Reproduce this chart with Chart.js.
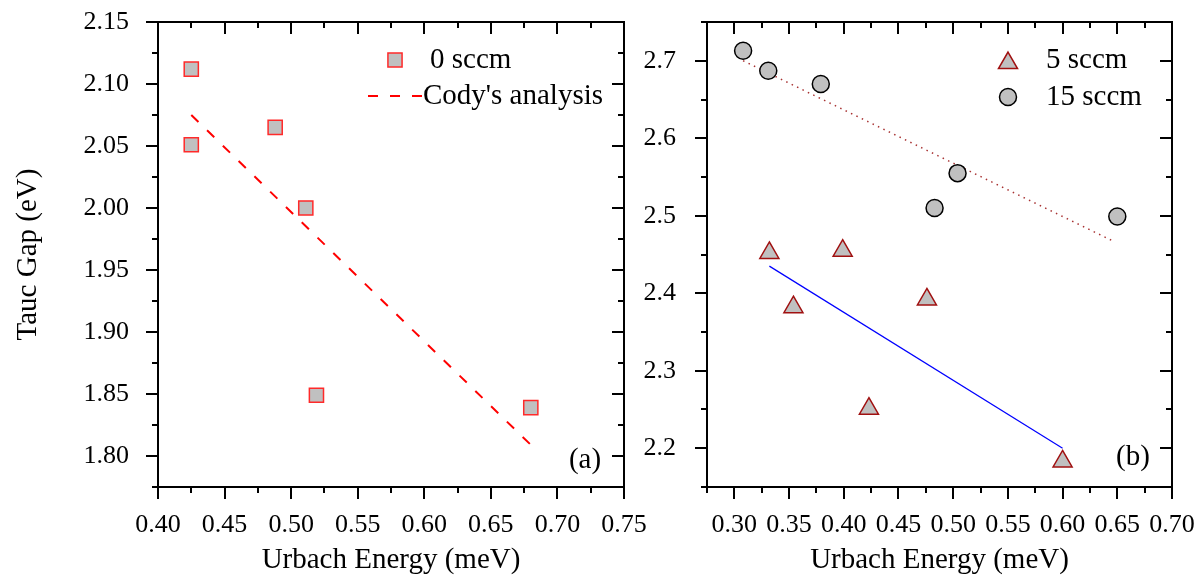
<!DOCTYPE html>
<html>
<head>
<meta charset="utf-8">
<script src="https://cdn.jsdelivr.net/npm/chart.js@4.4.1/dist/chart.umd.min.js"></script>
<style>
  html, body { margin: 0; padding: 0; background: #fff; }
  #wrap { position: relative; width: 1201px; height: 578px; overflow: hidden; }
  .panel { position: absolute; top: 0; }
</style>
</head>
<body>
<div id="wrap">
  <canvas id="panelA" class="panel" width="660" height="578" style="left:0"></canvas>
  <canvas id="panelB" class="panel" width="561" height="578" style="left:640px"></canvas>
</div>
<script>
'use strict';

// ---- panel (a): 0 sccm ----
const sccm0X = [0.425, 0.425, 0.488, 0.511, 0.519, 0.680];
const sccm0Y = [2.112, 2.051, 2.065, 2.000, 1.849, 1.839];
const codyFitX = [0.425, 0.680];
const codyFitY = [2.075, 1.809];
const panelAXTicks = [0.40, 0.45, 0.50, 0.55, 0.60, 0.65, 0.70, 0.75];
const panelAYTicks = [1.80, 1.85, 1.90, 1.95, 2.00, 2.05, 2.10, 2.15];

// ---- panel (b): 5 and 15 sccm ----
const sccm5X = [0.332, 0.354, 0.399, 0.423, 0.476, 0.600];
const sccm5Y = [2.452, 2.382, 2.455, 2.251, 2.392, 2.183];
const sccm15X = [0.308, 0.331, 0.379, 0.483, 0.504, 0.650];
const sccm15Y = [2.713, 2.687, 2.670, 2.510, 2.555, 2.499];
const fit5X = [0.332, 0.600];
const fit5Y = [2.435, 2.200];
const fit15X = [0.308, 0.648];
const fit15Y = [2.700, 2.466];
const panelBXTicks = [0.30, 0.35, 0.40, 0.45, 0.50, 0.55, 0.60, 0.65, 0.70];
const panelBYTicks = [2.2, 2.3, 2.4, 2.5, 2.6, 2.7];

const FONT = "'Liberation Serif', 'Times New Roman', serif";
const GREY = '#c0c0c0';

function toPoints(xs, ys) {
  return xs.map((x, i) => ({ x, y: ys[i] }));
}

/** major + minor tick values (minor halfway between majors) inside [min, max] */
function tickValues(majors, min, max) {
  const step = majors[1] - majors[0];
  const out = [];
  for (let k = -2; k <= majors.length * 2; k++) {
    const v = majors[0] + k * step / 2;
    if (v < min - 1e-9 || v > max + 1e-9) continue;
    out.push({ v, major: k % 2 === 0 });
  }
  return out;
}

/** box frame with outward ticks bottom/left and inward ticks top/right */
const frameTicks = {
  id: 'frameTicks',
  afterDraw(chart, args, opts) {
    const { ctx, chartArea: a, scales: { x, y } } = chart;
    ctx.save();
    ctx.strokeStyle = '#000';
    ctx.lineWidth = 2;
    ctx.strokeRect(a.left, a.top, a.right - a.left, a.bottom - a.top);
    ctx.beginPath();
    tickValues(opts.xTicks, x.min, x.max).forEach(({ v, major }) => {
      const px = Math.round(x.getPixelForValue(v));
      const len = major ? 12 : 6;
      ctx.moveTo(px, a.bottom); ctx.lineTo(px, a.bottom + len);
      ctx.moveTo(px, a.top);    ctx.lineTo(px, a.top + len);
    });
    tickValues(opts.yTicks, y.min, y.max).forEach(({ v, major }) => {
      const py = Math.round(y.getPixelForValue(v));
      const len = major ? 12 : 6;
      ctx.moveTo(a.left, py);  ctx.lineTo(a.left - len, py);
      ctx.moveTo(a.right, py); ctx.lineTo(a.right - len, py);
    });
    ctx.stroke();
    ctx.restore();
  },
};

/** legend entries + panel letter, drawn in canvas pixels */
const panelNotes = {
  id: 'panelNotes',
  afterDraw(chart, args, opts) {
    const { ctx } = chart;
    ctx.save();
    ctx.font = `29px ${FONT}`;
    ctx.fillStyle = '#000';
    ctx.textBaseline = 'middle';
    opts.items.forEach((it) => {
      const ds = chart.data.datasets[it.dataset];
      if (ds.showLine) {
        ctx.save();
        ctx.strokeStyle = ds.borderColor;
        ctx.lineWidth = ds.borderWidth;
        ctx.setLineDash(ds.borderDash || []);
        ctx.beginPath();
        ctx.moveTo(it.sx - 27, it.y);
        ctx.lineTo(it.sx + 27, it.y);
        ctx.stroke();
        ctx.restore();
      } else {
        ctx.save();
        ctx.fillStyle = ds.pointBackgroundColor;
        ctx.strokeStyle = ds.pointBorderColor;
        ctx.lineWidth = ds.pointBorderWidth;
        Chart.helpers.drawPoint(ctx, {
          pointStyle: ds.pointStyle, radius: ds.pointRadius, borderWidth: ds.pointBorderWidth,
        }, it.sx, it.sy !== undefined ? it.sy : it.y);
        ctx.restore();
      }
      ctx.textAlign = 'left';
      ctx.fillText(ds.label, it.tx, it.y);
    });
    ctx.textAlign = 'center';
    ctx.fillText(opts.letter.text, opts.letter.x, opts.letter.y);
    ctx.restore();
  },
};

function panelOptions(cfg) {
  return {
    responsive: false,
    animation: false,
    events: [],
    layout: { padding: { top: 22, right: cfg.padRight, left: 0, bottom: 0 } },
    plugins: {
      legend: { display: false },
      tooltip: { enabled: false },
      frameTicks: { xTicks: cfg.xTicks, yTicks: cfg.yTicks },
      panelNotes: cfg.notes,
    },
    scales: {
      x: {
        type: 'linear',
        min: cfg.xMin,
        max: cfg.xMax,
        afterFit: (s) => { s.height = 91; s.paddingLeft = 0; s.paddingRight = 0; },
        afterBuildTicks: (s) => { s.ticks = cfg.xTicks.map((v) => ({ value: v })); },
        grid: { display: false },
        border: { display: false },
        ticks: {
          autoSkip: false,
          maxRotation: 0,
          padding: 15,
          color: '#000',
          font: { family: FONT, size: 26 },
          callback: (v) => Number(v).toFixed(2),
        },
        title: {
          display: true,
          text: 'Urbach Energy (meV)',
          color: '#000',
          font: { family: FONT, size: 29 },
          padding: { top: 0, bottom: 0 },
        },
      },
      y: {
        type: 'linear',
        min: cfg.yMin,
        max: cfg.yMax,
        afterFit: (s) => { s.width = cfg.yWidth; s.paddingTop = 0; s.paddingBottom = 0; },
        afterBuildTicks: (s) => { s.ticks = cfg.yTicks.map((v) => ({ value: v })); },
        grid: { display: false },
        border: { display: false },
        ticks: {
          padding: cfg.yPad,
          color: '#000',
          font: { family: FONT, size: 26 },
          callback: (v) => Number(v).toFixed(cfg.yDigits),
        },
        title: {
          display: cfg.yTitle !== '',
          text: cfg.yTitle,
          color: '#000',
          font: { family: FONT, size: 29 },
          padding: { top: 11, bottom: 0 },
        },
      },
    },
  };
}

Chart.register(frameTicks, panelNotes);

new Chart(document.getElementById('panelA'), {
  type: 'scatter',
  data: {
    datasets: [
      {
        label: '0 sccm',
        data: toPoints(sccm0X, sccm0Y),
        pointStyle: 'rect',
        pointRadius: 10,
        pointBackgroundColor: GREY,
        pointBorderColor: '#ff2a2a',
        pointBorderWidth: 1.5,
      },
      {
        label: "Cody's analysis",
        data: toPoints(codyFitX, codyFitY),
        showLine: true,
        borderColor: '#ff0000',
        borderWidth: 2,
        borderDash: [10, 12],
        pointRadius: 0,
      },
    ],
  },
  options: panelOptions({
    xMin: 0.40, xMax: 0.75, yMin: 1.775, yMax: 2.15,
    xTicks: panelAXTicks, yTicks: panelAYTicks,
    yWidth: 158, yPad: 21, yDigits: 2, padRight: 36,
    yTitle: 'Tauc Gap (eV)',
    notes: {
      items: [
        { dataset: 0, sx: 395, sy: 60, tx: 430, y: 60 },
        { dataset: 1, sx: 395, tx: 423, y: 96 },
      ],
      letter: { text: '(a)', x: 585, y: 460 },
    },
  }),
});

new Chart(document.getElementById('panelB'), {
  type: 'scatter',
  data: {
    datasets: [
      {
        label: '5 sccm',
        data: toPoints(sccm5X, sccm5Y),
        pointStyle: 'triangle',
        pointRadius: 11,
        pointBackgroundColor: GREY,
        pointBorderColor: '#a01010',
        pointBorderWidth: 1.5,
      },
      {
        label: '15 sccm',
        data: toPoints(sccm15X, sccm15Y),
        pointStyle: 'circle',
        pointRadius: 8.5,
        pointBackgroundColor: GREY,
        pointBorderColor: '#000',
        pointBorderWidth: 1.5,
      },
      {
        label: '5 sccm fit',
        data: toPoints(fit5X, fit5Y),
        showLine: true,
        borderColor: '#0000ff',
        borderWidth: 1.2,
        pointRadius: 0,
      },
      {
        label: '15 sccm fit',
        data: toPoints(fit15X, fit15Y),
        showLine: true,
        borderColor: '#a83232',
        borderWidth: 1.5,
        borderDash: [1.5, 4.5],
        pointRadius: 0,
      },
    ],
  },
  options: panelOptions({
    xMin: 0.275, xMax: 0.70, yMin: 2.15, yMax: 2.75,
    xTicks: panelBXTicks, yTicks: panelBYTicks,
    yWidth: 67, yPad: 23, yDigits: 1, padRight: 29,
    yTitle: '',
    notes: {
      items: [
        { dataset: 0, sx: 368, sy: 63, tx: 406, y: 60 },
        { dataset: 1, sx: 368, sy: 97, tx: 406, y: 97 },
      ],
      letter: { text: '(b)', x: 493, y: 457 },
    },
  }),
});
</script>
</body>
</html>
